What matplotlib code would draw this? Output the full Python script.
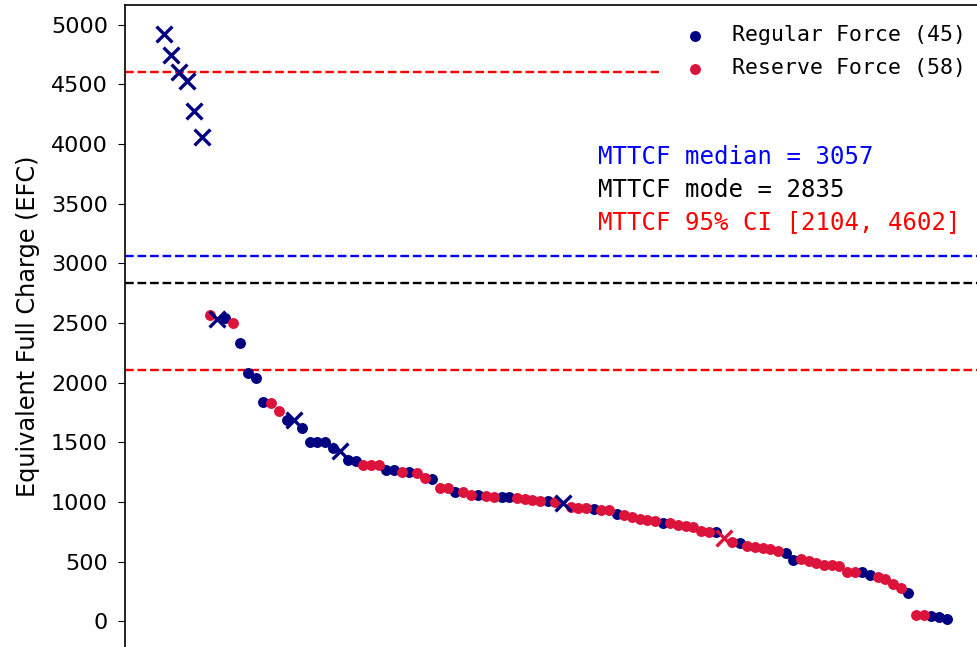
import matplotlib
matplotlib.use("Agg")
from matplotlib import pyplot as plt

# EFC per battery, sorted high to low
efc = [4925, 4750, 4605, 4530, 4280, 4060, 2565, 2535, 2545, 2500,
       2330, 2080, 2040, 1835, 1825, 1760, 1690, 1690, 1615, 1505,
       1505, 1505, 1455, 1430, 1355, 1345, 1310, 1310, 1310, 1270,
       1270, 1250, 1250, 1242, 1200, 1191, 1116, 1116, 1082, 1082,
       1057, 1057, 1049, 1040, 1040, 1040, 1032, 1023, 1015, 1007,
       1007, 998, 990, 956, 948, 948, 940, 931, 931, 902,
       889, 872, 856, 847, 839, 822, 822, 805, 797, 789,
       755, 747, 747, 696, 663, 654, 629, 621, 612, 604,
       587, 570, 512, 520, 503, 487, 470, 470, 461, 411,
       411, 411, 386, 369, 352, 310, 277, 235, 50, 50,
       42, 34, 17]
# R = Regular Force, V = Reserve Force (same order as efc)
force = list("RRRRRRVRRV" "RRRRVVRRRR" "RRRRRRVVVR" "RVRVVRVVRV"
             "VRVVRRVVVV" "RVRVVVRVVR" "VVVVVRVVVV" "VVRVVRVVVV"
             "VRRVVVVVVV" "VRRVVVVRVV" "RRR")
# points drawn with a cross
crossed = [0, 1, 2, 3, 4, 5, 7, 17, 23, 52, 73]

median, mode = 3057, 2835
ci = (2104, 4602)

colors = {"R": "#000080", "V": "#dc143c"}
labels = {"R": "Regular Force", "V": "Reserve Force"}
mono = "DejaVu Sans Mono"

fig = plt.figure(figsize=(9.77, 6.47), dpi=100)
ax = fig.add_axes([124.5 / 977, -1 / 647, 861.5 / 977, 643 / 647])

for ci_val in ci:
    ax.axhline(ci_val, color="#ff0000", ls="--", lw=1.7, zorder=1)
ax.axhline(median, color="#0000ff", ls="--", lw=1.7, zorder=1)
ax.axhline(mode, color="black", ls="--", lw=1.7, zorder=1)

for grp in ["R", "V"]:
    idx = [i for i, g in enumerate(force) if g == grp and i not in crossed]
    n = sum(1 for g in force if g == grp)
    ax.scatter(idx, [efc[i] for i in idx], s=62, color=colors[grp],
               label=f"{labels[grp]} ({n})", zorder=3, linewidths=0)
    xi = [i for i in crossed if force[i] == grp]
    ax.scatter(xi, [efc[i] for i in xi], s=130, marker="x",
               color=colors[grp], linewidths=2.4, zorder=4)

ax.set_xlim(-5.1, 107.1)
ax.set_ylim(-225, 5165)
ax.set_xticks([])
ax.set_yticks(range(0, 5001, 500))
ax.tick_params(axis="y", labelsize=16, length=5, pad=7)
for s in ax.spines.values():
    s.set_linewidth(1.2)
ax.set_ylabel("Equivalent Full Charge (EFC)", fontsize=17.3, labelpad=8)

# white box with no edge, wide enough to hide the upper CI line behind it
leg = ax.legend(loc="upper right", prop={"family": mono, "size": 15.5},
                frameon=True, framealpha=1, edgecolor="none",
                handletextpad=0.8, labelspacing=0.6,
                borderpad=0.75, borderaxespad=0.2, handlelength=1.8)

ax.text(0.5496, 0.7636, f"MTTCF median = {median}", transform=ax.transAxes,
        family=mono, fontsize=17.3, color="#0000ff", va="center")
ax.text(0.5496, 0.7123, f"MTTCF mode = {mode}", transform=ax.transAxes,
        family=mono, fontsize=17.3, color="black", va="center")
ax.text(0.5496, 0.6625, f"MTTCF 95% CI [{ci[0]}, {ci[1]}]",
        transform=ax.transAxes, family=mono, fontsize=17.3,
        color="#ff0000", va="center")

fig.savefig("out.png", dpi=100)
